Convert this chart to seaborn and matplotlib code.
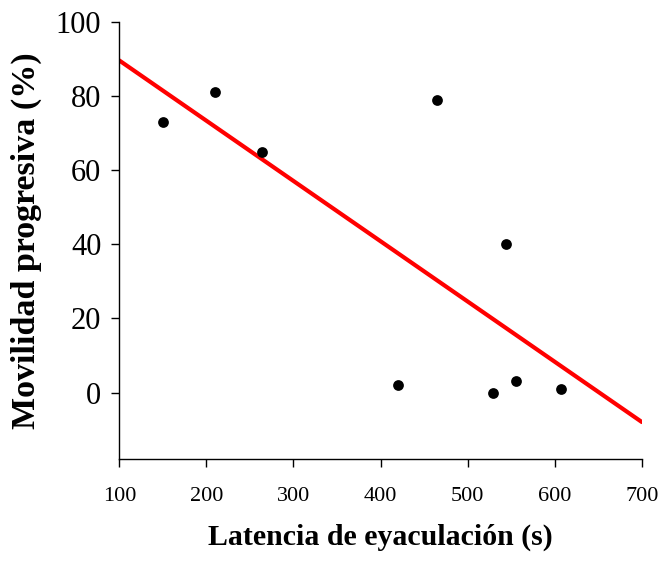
import numpy as np
import pandas as pd
import matplotlib
matplotlib.use("Agg")
import matplotlib.pyplot as plt
import seaborn as sns

# Ejaculation latency (s) vs. progressive motility (%)
latencia = [150, 210, 264, 420, 465, 529, 544, 556, 607]
movilidad = [73, 81, 65, 2, 79, 0, 40, 3, 1]
x_ticks = [100, 200, 300, 400, 500, 600, 700]
y_ticks = [0, 20, 40, 60, 80, 100]

df = pd.DataFrame({"latencia": latencia, "movilidad": movilidad})

sns.set_theme(style="white")
plt.rcParams["font.family"] = ["Liberation Serif", "DejaVu Serif"]
plt.rcParams["text.color"] = "black"
plt.rcParams["axes.labelcolor"] = "black"
plt.rcParams["xtick.color"] = "black"
plt.rcParams["ytick.color"] = "black"

fig = plt.figure(figsize=(6.61, 5.64), dpi=100)
ax = fig.add_axes([0.1805, 0.1856, 0.971 - 0.1805, 0.961 - 0.1856])
ax.set_xlim(100, 700)
ax.set_ylim(-18, 100)

# scatter of observations plus least-squares line extended across the x range
sns.regplot(data=df, x="latencia", y="movilidad", ax=ax, ci=None,
            truncate=False,
            scatter_kws={"color": "black", "s": 60, "alpha": 1,
                         "linewidths": 0, "zorder": 3},
            line_kws={"color": "#ff0000", "linewidth": 3, "zorder": 2})

ax.set_xlim(100, 700)
ax.set_ylim(-18, 100)
ax.set_xticks(x_ticks)
ax.set_yticks(y_ticks)
ax.set_xticklabels([str(v) for v in x_ticks], fontsize=16, color="black")
ax.set_yticklabels([str(v) for v in y_ticks], fontsize=22, color="black")

for side in ["top", "right"]:
    ax.spines[side].set_visible(False)
for side in ["left", "bottom"]:
    ax.spines[side].set_color("black")
    ax.spines[side].set_linewidth(1.0)

ax.tick_params(axis="x", direction="out", length=6, width=1, color="black",
               pad=14, bottom=True)
ax.tick_params(axis="y", direction="out", length=6, width=1, color="black",
               pad=7, left=True)

ax.set_xlabel("Latencia de eyaculación (s)", fontsize=21.5, fontweight="bold",
              labelpad=13, color="black")
ax.set_ylabel("Movilidad progresiva (%)", fontsize=24.5, fontweight="bold",
              labelpad=10, color="black")

fig.savefig("out.png", dpi=100)
